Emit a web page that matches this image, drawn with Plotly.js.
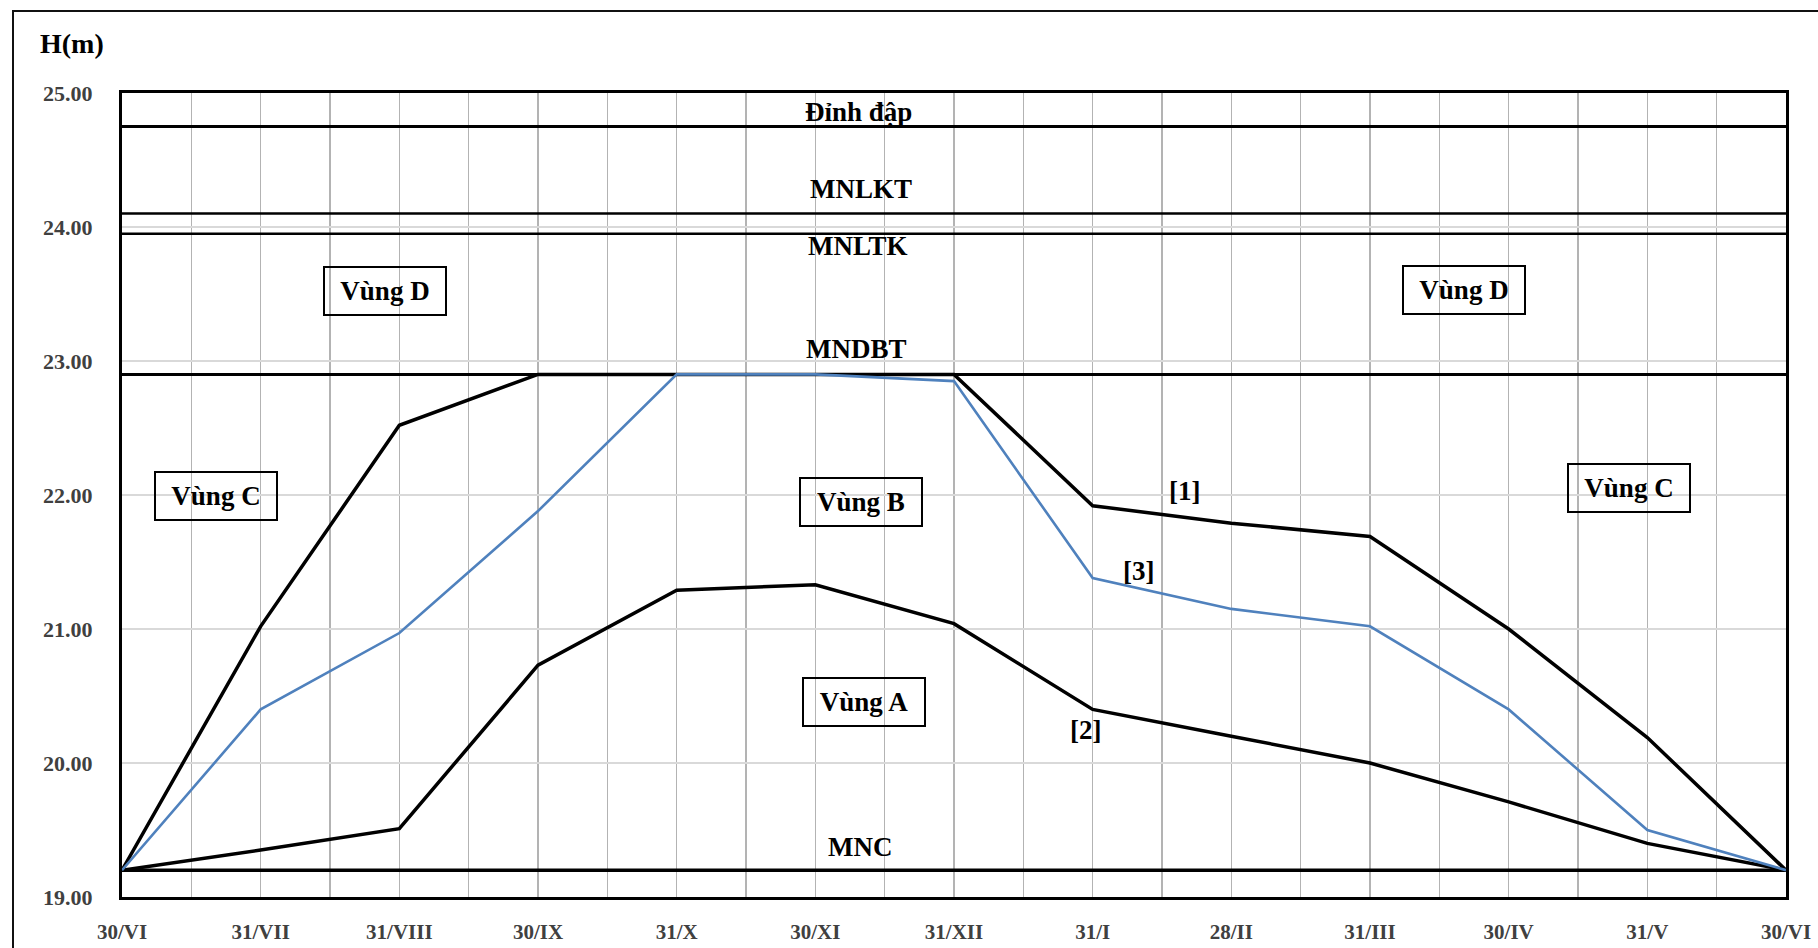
<!DOCTYPE html>
<html>
<head>
<meta charset="utf-8">
<script src="https://cdn.plot.ly/plotly-3.0.1.min.js"></script>
<style>
  html, body { margin: 0; padding: 0; background: #fff; }
  #chart { width: 1818px; height: 948px; position: absolute; left: 0; top: 0; }
  #frame { position: absolute; left: 12px; top: 10px; width: 1830px; height: 960px;
           border-left: 2.5px solid #111; border-top: 2.5px solid #111; pointer-events: none; }
</style>
</head>
<body>
<div id="chart"></div>
<div id="frame"></div>
<script>
// ---- data ----
const monthLabels = ['30/VI','31/VII','31/VIII','30/IX','31/X','30/XI','31/XII','31/I','28/II','31/III','30/IV','31/V','30/VI'];
const monthPos = [0,1,2,3,4,5,6,7,8,9,10,11,12];
const curve1 = [19.20, 21.02, 22.52, 22.90, 22.90, 22.90, 22.90, 21.92, 21.79, 21.69, 21.00, 20.19, 19.20];
const curve2 = [19.20, 19.35, 19.51, 20.73, 21.29, 21.33, 21.04, 20.40, 20.20, 20.00, 19.71, 19.40, 19.20];
const curve3 = [19.20, 20.40, 20.97, 21.88, 22.90, 22.90, 22.85, 21.38, 21.15, 21.02, 20.40, 19.50, 19.20];
const levelNames = ['Đỉnh đập', 'MNLKT', 'MNLTK', 'MNDBT', 'MNC'];
const levelValues = [24.75, 24.10, 23.95, 22.90, 19.20];
const yTicks = [19, 20, 21, 22, 23, 24, 25];

// ---- styling / positions ----
const FONT = '"Liberation Serif", "Times New Roman", serif';
const levelWidths = [3, 2.5, 2.5, 3, 3.5];
const levelLabelPos = [[5.31, 24.86], [5.33, 24.28], [5.31, 23.86], [5.30, 23.09], [5.32, 19.37]];
const zoneLabels = [
  {t: 'Vùng D', x: 1.90, y: 23.52},
  {t: 'Vùng D', x: 9.68, y: 23.53},
  {t: 'Vùng C', x: 0.675, y: 21.99},
  {t: 'Vùng C', x: 10.87, y: 22.05},
  {t: 'Vùng B', x: 5.33, y: 21.95},
  {t: 'Vùng A', x: 5.35, y: 20.455}
];
const curveLabels = [
  {t: '[1]', x: 7.66, y: 22.03},
  {t: '[3]', x: 7.33, y: 21.43},
  {t: '[2]', x: 6.95, y: 20.25}
];

const xEnds = [monthPos[0], monthPos[monthPos.length - 1]];
const traces = [];
levelValues.forEach((v, i) => {
  traces.push({x: xEnds, y: [v, v], mode: 'lines', line: {color: '#000', width: levelWidths[i]}, hoverinfo: 'skip'});
});
traces.push({x: monthPos, y: curve2, mode: 'lines', line: {color: '#000', width: 3.5}});
traces.push({x: monthPos, y: curve1, mode: 'lines', line: {color: '#000', width: 3.5}});
traces.push({x: monthPos, y: curve3, mode: 'lines', line: {color: '#4F81BD', width: 2.6}});

const annotations = [];
levelNames.forEach((n, i) => {
  annotations.push({x: levelLabelPos[i][0], y: levelLabelPos[i][1], xref: 'x', yref: 'y', text: n,
    showarrow: false, font: {family: FONT, size: 27, color: '#000', weight: 'bold'}});
});
zoneLabels.forEach(z => {
  annotations.push({x: z.x, y: z.y, xref: 'x', yref: 'y', text: z.t, showarrow: false,
    font: {family: FONT, size: 27, color: '#000', weight: 'bold'},
    bordercolor: '#000', borderwidth: 2, borderpad: 8, width: 104});
});
curveLabels.forEach(c => {
  annotations.push({x: c.x, y: c.y, xref: 'x', yref: 'y', text: c.t, showarrow: false,
    font: {family: FONT, size: 27, color: '#000', weight: 'bold'}});
});
annotations.push({x: 0, y: 1, xref: 'paper', yref: 'paper', xanchor: 'left', yanchor: 'middle',
  xshift: -84, yshift: 50, text: 'H(m)', showarrow: false,
  font: {family: FONT, size: 28, color: '#000', weight: 'bold'}});

const layout = {
  width: 1818, height: 948,
  margin: {l: 122, r: 32, t: 93, b: 51},
  paper_bgcolor: '#fff', plot_bgcolor: '#fff',
  showlegend: false,
  xaxis: {
    range: [0, 12], tickmode: 'array', tickvals: monthPos, ticktext: monthLabels,
    showgrid: true, gridcolor: '#b3b3b3', gridwidth: 1.5,
    minor: {tickmode: 'linear', tick0: 0, dtick: 0.5, showgrid: true, gridcolor: '#b3b3b3', gridwidth: 1.5},
    showline: true, linecolor: '#000', linewidth: 3, mirror: true,
    ticks: '', ticklabelstandoff: 14, zeroline: false,
    tickfont: {family: FONT, size: 21, color: '#404040', weight: 'bold'}
  },
  yaxis: {
    range: [19, 25], tickmode: 'array', tickvals: yTicks, tickformat: '.2f',
    showgrid: true, gridcolor: '#d9d9d9', gridwidth: 1.5,
    showline: true, linecolor: '#000', linewidth: 3, mirror: true,
    ticks: '', ticklabelstandoff: 22, zeroline: false,
    tickfont: {family: FONT, size: 22, color: '#404040', weight: 'bold'}
  },
  annotations: annotations
};

Plotly.newPlot('chart', traces, layout, {staticPlot: true, displayModeBar: false});
</script>
</body>
</html>
